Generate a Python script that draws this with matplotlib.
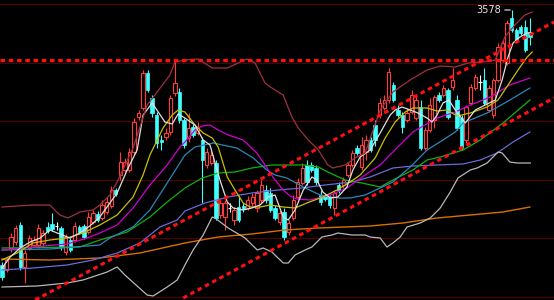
import matplotlib.pyplot as plt
from matplotlib.patches import Rectangle

# daily candles (index points)
opens = [3323, 3318, 3340, 3346, 3363, 3321, 3340, 3343, 3343, 3345,
         3361, 3364, 3362, 3360, 3336, 3348, 3348, 3361, 3362, 3356,
         3366, 3374, 3370, 3376, 3382, 3398, 3413, 3418, 3418, 3436,
         3471, 3480, 3515, 3490, 3473, 3448, 3451, 3456, 3495, 3496,
         3468, 3450, 3461, 3455, 3448, 3423, 3425, 3425, 3373, 3371,
         3380, 3368, 3381, 3382, 3380, 3385, 3380, 3388, 3398, 3395,
         3380, 3366, 3376, 3356, 3370, 3391, 3405, 3423, 3423, 3420,
         3393, 3392, 3391, 3380, 3403, 3403, 3413, 3423, 3440, 3421,
         3436, 3448, 3463, 3473, 3480, 3488, 3503, 3478, 3473, 3468,
         3476, 3470, 3481, 3440, 3458, 3468, 3493, 3493, 3498, 3501,
         3488, 3470, 3448, 3485, 3500, 3506, 3508, 3478, 3473, 3508,
         3528, 3525, 3570, 3558, 3561, 3561, 3556]
closes = [3311, 3328, 3351, 3360, 3321, 3335, 3350, 3348, 3360, 3355,
          3357, 3359, 3362, 3341, 3351, 3338, 3362, 3356, 3351, 3371,
          3375, 3368, 3383, 3386, 3398, 3394, 3426, 3426, 3436, 3466,
          3475, 3515, 3498, 3475, 3445, 3446, 3455, 3490, 3505, 3468,
          3443, 3460, 3453, 3460, 3428, 3436, 3433, 3370, 3385, 3385,
          3380, 3378, 3368, 3379, 3388, 3391, 3395, 3403, 3388, 3378,
          3370, 3375, 3351, 3365, 3388, 3406, 3420, 3406, 3418, 3406,
          3386, 3389, 3383, 3395, 3398, 3408, 3423, 3435, 3435, 3443,
          3448, 3438, 3448, 3485, 3488, 3516, 3488, 3473, 3461, 3475,
          3493, 3488, 3440, 3458, 3483, 3491, 3488, 3500, 3471, 3508,
          3460, 3440, 3481, 3501, 3511, 3506, 3485, 3500, 3508, 3541,
          3545, 3565, 3558, 3548, 3555, 3538, 3551]
highs = [3326, 3330, 3355, 3363, 3366, 3338, 3353, 3352, 3364, 3358,
         3366, 3375, 3366, 3362, 3354, 3350, 3366, 3363, 3364, 3376,
         3378, 3377, 3388, 3391, 3402, 3400, 3436, 3430, 3440, 3470,
         3478, 3518, 3518, 3493, 3476, 3453, 3460, 3493, 3528, 3500,
         3470, 3475, 3464, 3466, 3451, 3440, 3438, 3428, 3390, 3388,
         3385, 3381, 3393, 3385, 3392, 3395, 3398, 3408, 3403, 3400,
         3383, 3378, 3380, 3368, 3393, 3410, 3425, 3428, 3426, 3423,
         3398, 3394, 3393, 3398, 3406, 3411, 3426, 3438, 3443, 3451,
         3453, 3451, 3468, 3490, 3493, 3520, 3506, 3483, 3476, 3480,
         3498, 3493, 3488, 3461, 3490, 3493, 3496, 3503, 3500, 3520,
         3493, 3473, 3483, 3504, 3514, 3513, 3520, 3503, 3510, 3545,
         3548, 3568, 3578, 3560, 3563, 3568, 3570]
lows = [3308, 3316, 3336, 3343, 3318, 3305, 3338, 3341, 3340, 3342,
        3355, 3357, 3358, 3338, 3333, 3336, 3346, 3354, 3349, 3354,
        3364, 3366, 3368, 3374, 3380, 3392, 3408, 3416, 3416, 3434,
        3468, 3478, 3496, 3471, 3440, 3438, 3448, 3453, 3492, 3465,
        3440, 3446, 3451, 3453, 3385, 3420, 3423, 3368, 3370, 3358,
        3376, 3363, 3366, 3376, 3378, 3382, 3376, 3385, 3385, 3376,
        3368, 3363, 3348, 3353, 3368, 3389, 3403, 3403, 3416, 3403,
        3383, 3387, 3380, 3373, 3395, 3400, 3411, 3421, 3433, 3418,
        3428, 3436, 3442, 3470, 3478, 3485, 3486, 3471, 3455, 3466,
        3474, 3468, 3438, 3438, 3456, 3460, 3486, 3491, 3469, 3498,
        3458, 3438, 3445, 3483, 3498, 3498, 3483, 3476, 3470, 3506,
        3526, 3523, 3556, 3546, 3553, 3536, 3543]

# indicator lines (candle index, value)
ma5_x = [0, 1.8, 4.0, 6.2, 8.4, 10.5, 12.7, 14.9, 17.1, 19.3, 21.5, 23.7, 25.3, 27.5,
         29.7, 31.0, 33.0, 35.8, 37.4, 38.7, 40.2, 42.4, 44.2, 45.7, 47.9, 49.5, 50.8,
         53.0, 54.9, 56.7, 58.5, 60.0, 61.8, 62.9, 64.4, 66.2, 68.1, 69.2, 70.5, 72.1,
         73.8, 75.8, 77.1, 78.7, 80.9, 83.1, 85.3, 86.4, 87.9, 89.7, 91.4, 93.4, 94.5,
         95.6, 96.9, 98.2, 99.6, 101.8, 104.0, 106.2, 108.4, 109.9, 111.2, 112.3, 113.8,
         115.4, 116.5]
ma5_y = [3320, 3331, 3340, 3346, 3350, 3358, 3354, 3350, 3355, 3362, 3371, 3385, 3395, 3418,
         3438, 3473, 3485, 3466, 3464, 3474, 3470, 3463, 3448, 3443, 3408, 3386, 3380,
         3378, 3380, 3383, 3391, 3393, 3371, 3368, 3378, 3398, 3411, 3408, 3396, 3390,
         3391, 3401, 3418, 3431, 3438, 3455, 3473, 3478, 3481, 3478, 3475, 3470, 3466,
         3473, 3485, 3488, 3478, 3465, 3478, 3483, 3488, 3508, 3531, 3545, 3551,
         3555, 3555]
ma10_x = [0, 3.3, 6.8, 10.5, 14.3, 17.8, 21.5, 25.3, 28.8, 31.0, 32.5, 35.4, 37.4, 38.7,
          40.2, 42.4, 44.2, 46.2, 47.5, 49.5, 51.6, 53.0, 54.5, 56.7, 58.9, 61.8, 64.4,
          67.0, 70.5, 73.6, 76.5, 78.7, 82.0, 84.2, 86.4, 88.6, 90.3, 93.4, 95.6, 97.8,
          100.0, 102.9, 106.6, 109.0, 111.2, 113.4, 115.4, 116.5]
ma10_y = [3328, 3335, 3345, 3348, 3350, 3355, 3363, 3373, 3391, 3413, 3433, 3460, 3473, 3478,
          3476, 3463, 3455, 3450, 3441, 3411, 3395, 3385, 3381, 3381, 3383, 3381, 3380,
          3385, 3391, 3398, 3406, 3413, 3430, 3450, 3466, 3476, 3480, 3480, 3477, 3478,
          3472, 3475, 3481, 3488, 3503, 3518, 3531, 3536]
ma20_x = [0, 6.8, 14.3, 18.7, 21.5, 25.3, 28.8, 32.5, 36.3, 39.1, 40.2, 42.4, 44.0, 45.7,
          47.5, 49.7, 53.0, 56.0, 57.8, 60.0, 61.8, 63.3, 64.8, 67.7, 72.1, 75.8, 79.8,
          83.1, 85.9, 90.3, 95.6, 99.6, 102.9, 107.3, 111.6, 116.0]
ma20_y = [3338, 3341, 3344, 3350, 3355, 3363, 3380, 3403, 3423, 3441, 3446, 3458, 3462, 3463,
          3458, 3453, 3448, 3435, 3423, 3408, 3398, 3392, 3389, 3388, 3393, 3400, 3413,
          3423, 3436, 3456, 3470, 3476, 3483, 3491, 3503, 3510]
ma30_x = [0, 10.5, 21.5, 23.7, 28.8, 32.5, 36.3, 40.2, 42.4, 46.4, 51.6, 55.2, 58.2, 60.0,
          62.6, 66.2, 69.9, 73.6, 76.5, 79.8, 85.9, 89.7, 93.4, 96.9, 99.6, 101.3, 106.6,
          111.6, 116.0]
ma30_y = [3338, 3339, 3343, 3350, 3361, 3378, 3405, 3433, 3441, 3445, 3440, 3430, 3418, 3413,
          3410, 3401, 3393, 3390, 3390, 3393, 3406, 3421, 3438, 3448, 3456, 3465, 3475,
          3488, 3500]
ma60_x = [0, 17.1, 21.5, 27.5, 32.5, 36.3, 40.2, 44.0, 47.5, 51.2, 54.9, 59.3, 66.6, 69.5,
          71.6, 75.4, 79.1, 83.1, 85.9, 90.3, 93.4, 96.3, 101.3, 105.1, 110.1, 116.0]
ma60_y = [3340, 3341, 3348, 3356, 3371, 3386, 3400, 3410, 3415, 3416, 3420, 3423, 3423, 3421,
          3416, 3408, 3405, 3401, 3408, 3418, 3428, 3431, 3438, 3448, 3465, 3488]
ma120_x = [0, 6.8, 14.3, 20.0, 25.3, 30.3, 34.7, 38.5, 40.2, 44.6, 49.7, 54.9, 60.7, 65.9,
           71.0, 76.9, 80.9, 85.9, 90.3, 95.6, 101.3, 105.1, 108.8, 112.3, 116.0]
ma120_y = [3318, 3320, 3323, 3328, 3335, 3345, 3361, 3368, 3377, 3385, 3391, 3395, 3398, 3400,
           3403, 3406, 3411, 3420, 3422, 3423, 3424, 3428, 3435, 3446, 3456]
ma250_x = [0, 10.5, 21.5, 30.3, 40.2, 47.5, 54.9, 62.2, 69.5, 80.9, 88.1, 95.6, 102.9, 110.1, 116.0]
ma250_y = [3329, 3328, 3330, 3335, 3345, 3351, 3354, 3358, 3360, 3362, 3365, 3370, 3373, 3376, 3381]

# bollinger bands
boll_up_x = [0, 6.8, 10.5, 12.7, 14.5, 17.1, 20.0, 21.5, 23.7, 25.3, 28.8, 31.9, 34.1, 36.9,
             38.0, 40.2, 43.1, 46.2, 49.5, 53.8, 55.6, 57.8, 59.3, 61.8, 63.7, 65.1, 67.3,
             69.5, 71.6, 72.7, 75.4, 77.6, 79.8, 83.1, 85.9, 89.7, 93.4, 96.3, 99.6, 102.4,
             105.5, 108.4, 110.5, 112.7, 114.9, 116.5]
boll_up_y = [3381, 3383, 3383, 3373, 3370, 3376, 3378, 3383, 3393, 3406, 3440, 3483, 3496, 3513,
             3526, 3528, 3529, 3520, 3520, 3529, 3525, 3505, 3500, 3493, 3471, 3460, 3448,
             3438, 3423, 3420, 3423, 3430, 3435, 3478, 3496, 3508, 3518, 3522, 3521, 3525,
             3526, 3528, 3551, 3563, 3573, 3576]
boll_dn_x = [0, 7.7, 14.3, 17.8, 23.1, 25.3, 27.0, 31.9, 33.2, 36.3, 38.5, 40.2, 42.0, 44.2,
             46.2, 46.8, 49.7, 53.4, 56.1, 57.4, 59.3, 61.8, 62.9, 64.4, 66.6, 68.1, 70.3,
             72.5, 73.8, 76.9, 79.8, 80.9, 83.1, 84.6, 85.9, 87.5, 89.0, 91.9, 94.1, 96.3,
             98.5, 100.2, 102.9, 104.4, 106.6, 107.9, 109.0, 109.9, 111.6, 113.2, 116.1]
boll_dn_y = [3301, 3302, 3305, 3308, 3316, 3321, 3313, 3293, 3292, 3301, 3308, 3323, 3338, 3353,
             3371, 3370, 3360, 3350, 3338, 3340, 3336, 3325, 3325, 3333, 3338, 3341, 3351,
             3353, 3355, 3353, 3353, 3351, 3350, 3341, 3345, 3351, 3361, 3365, 3370, 3380,
             3396, 3410, 3418, 3420, 3425, 3431, 3436, 3435, 3426, 3425, 3425]

# hand drawn lines
grid_levels = [3584, 3525.4, 3466.8, 3408.2, 3349.6, 3291]
resistance = 3528.5
upper_trend_x = [7.3, 121.3]
upper_trend_y = [3288, 3566]
lower_trend_x = [39.8, 121.3]
lower_trend_y = [3290, 3490]
peak_value = 3578

up_color = '#ff3c3c'
down_color = '#40ffff'

fig = plt.figure(figsize=(5.54, 3.0), dpi=100, facecolor='black')
ax = fig.add_axes([0, 0, 1, 1])
ax.set_facecolor('black')

# background grid
for g in grid_levels:
    ax.axhline(g, color='#520000', lw=0.8, zorder=1)

# candles
w = 0.74
for i in range(len(opens)):
    o, c, h, l = opens[i], closes[i], highs[i], lows[i]
    if c > o:
        ax.vlines(i, c, h, color=up_color, lw=0.8, zorder=2)
        ax.vlines(i, l, o, color=up_color, lw=0.8, zorder=2)
        ax.add_patch(Rectangle((i - w / 2, o), w, c - o, facecolor='black',
                               edgecolor=up_color, lw=0.8, zorder=3))
    elif c < o:
        ax.vlines(i, l, h, color=down_color, lw=0.8, zorder=2)
        ax.add_patch(Rectangle((i - w / 2, c), w, o - c, facecolor=down_color,
                               edgecolor=down_color, lw=0.5, zorder=3))
    else:
        ax.vlines(i, l, h, color='white', lw=0.8, zorder=2)
        ax.hlines(o, i - w / 2, i + w / 2, color='white', lw=0.8, zorder=3)

# moving averages and bands
ax.plot(ma250_x, ma250_y, color='#d87000', lw=1.0, zorder=4)
ax.plot(ma120_x, ma120_y, color='#6a6ad8', lw=0.9, zorder=4)
ax.plot(ma60_x, ma60_y, color='#10b010', lw=0.9, zorder=4)
ax.plot(ma30_x, ma30_y, color='#2a88b8', lw=0.9, zorder=4)
ax.plot(ma20_x, ma20_y, color='#d000d0', lw=0.9, zorder=4)
ax.plot(ma10_x, ma10_y, color='#c8c000', lw=0.9, zorder=4)
ax.plot(ma5_x, ma5_y, color='#e0e0e0', lw=0.9, zorder=4)
ax.plot(boll_up_x, boll_up_y, color='#a03040', lw=0.9, zorder=4)
ax.plot(boll_dn_x, boll_dn_y, color='#b8b8b8', lw=0.9, zorder=4)

# red dotted support / trend lines
dash = dict(color='#ff1010', lw=2.2, dashes=(1.5, 1.2), zorder=5)
ax.axhline(resistance, **dash)
ax.plot(upper_trend_x, upper_trend_y, **dash)
ax.plot(lower_trend_x, lower_trend_y, **dash)

# peak label
peak_i = highs.index(peak_value)
ax.annotate(str(peak_value), xy=(peak_i, peak_value), xytext=(-8, 0),
            textcoords='offset points', ha='right', va='center',
            color='#e8e8e8', fontsize=7,
            arrowprops=dict(arrowstyle='-', color='#e8e8e8', lw=0.8,
                            shrinkA=1, shrinkB=1))

ax.set_xlim(-0.44, 121.3)
ax.set_ylim(3288, 3588)
ax.axis('off')

fig.savefig('out.png', dpi=100, facecolor='black')
